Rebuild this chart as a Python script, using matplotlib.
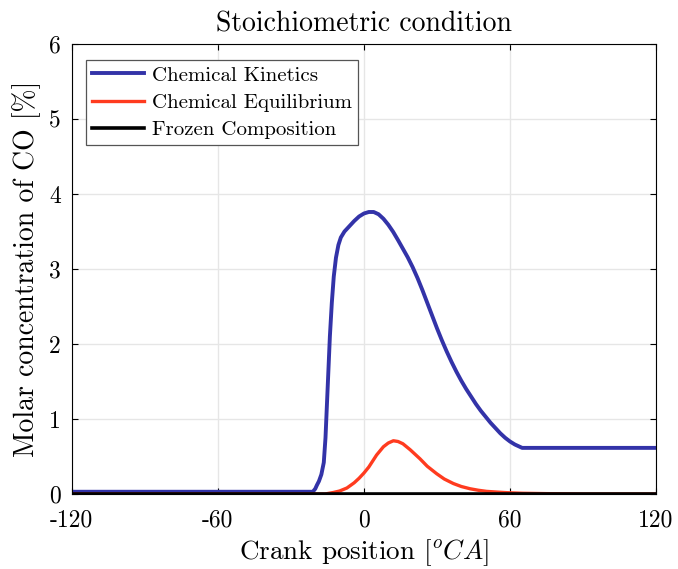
import matplotlib
matplotlib.use("Agg")
import matplotlib.pyplot as plt

plt.rcParams["font.family"] = ["cmr10", "DejaVu Serif"]
plt.rcParams["mathtext.fontset"] = "cm"
plt.rcParams["axes.unicode_minus"] = False

# Chemical kinetics (blue)
kin_x = [-120, -21, -20, -19.3, -18.5, -17.5, -16.5, -15.8, -15.2, -14.6, -14, -13.2,
         -12.4, -11.5, -10.5, -9.5, -8, -6, -4, -2, 0, 2, 4, 6, 8, 10, 12, 14, 16,
         18, 20, 22, 24, 26, 28, 30, 32, 34, 36, 38, 40, 42, 44, 46, 48, 50, 52, 54,
         56, 58, 60, 62, 64, 65, 120]
kin_y = [0.03, 0.03, 0.07, 0.12, 0.17, 0.26, 0.42, 0.75, 1.2, 1.65, 2.1, 2.55,
         2.9, 3.15, 3.32, 3.42, 3.50, 3.57, 3.64, 3.70, 3.74, 3.76, 3.76, 3.73, 3.67,
         3.59, 3.495, 3.385, 3.27, 3.155, 3.025, 2.88, 2.72, 2.55, 2.38, 2.21, 2.05,
         1.90, 1.76, 1.63, 1.51, 1.40, 1.30, 1.20, 1.11, 1.03, 0.95, 0.88, 0.81, 0.75,
         0.70, 0.66, 0.63, 0.615, 0.615]

# Chemical equilibrium (red)
eq_x = [-120, -16, -12.6, -10, -7, -4, -2, 0, 2, 5.2, 8, 10, 12.1, 14, 16, 19,
        23, 26, 29.9, 33, 36.7, 40, 43.6, 47, 50.4, 55, 58.6, 65, 75, 90, 120]
eq_y = [0.0, 0.0, 0.02, 0.04, 0.08, 0.15, 0.21, 0.28, 0.36, 0.52, 0.63, 0.68, 0.71,
        0.70, 0.67, 0.59, 0.47, 0.37, 0.27, 0.20, 0.14, 0.10, 0.07, 0.05, 0.035,
        0.025, 0.018, 0.01, 0.005, 0.0, 0.0]

# Frozen composition (black)
frz_x = [-120, 120]
frz_y = [0.0, 0.0]

xticks = [-120, -60, 0, 60, 120]
yticks = [0, 1, 2, 3, 4, 5, 6]

fig = plt.figure(figsize=(6.78, 5.69), dpi=100)
ax = fig.add_axes([0.106, 0.1318, 0.8616, 0.7909])

ax.plot(kin_x, kin_y, color="#3333a8", lw=2.8, label="Chemical Kinetics")
ax.plot(eq_x, eq_y, color="#ff3b1f", lw=2.4, label="Chemical Equilibrium")
ax.plot(frz_x, frz_y, color="black", lw=2.6, label="Frozen Composition")

ax.set_xlim(-120, 120)
ax.set_ylim(0, 6)
ax.set_xticks(xticks)
ax.set_xticklabels([str(t) for t in xticks])
ax.set_yticks(yticks)
ax.set_yticklabels([str(t) for t in yticks])
ax.tick_params(direction="in", labelsize=17, top=True, right=True, length=4)
ax.tick_params(axis="x", pad=11)
ax.tick_params(axis="y", pad=8)
ax.grid(True, color="#e6e6e6", lw=1)
ax.set_axisbelow(True)
for s in ax.spines.values():
    s.set_linewidth(0.8)

ax.set_title("Stoichiometric condition", fontsize=20, pad=9)
ax.set_xlabel(r"Crank position [$^{o}CA$]", fontsize=19.5, labelpad=4)
ax.set_ylabel("Molar concentration of CO [%]", fontsize=20, labelpad=6)

leg = ax.legend(loc="upper left", fontsize=15, fancybox=False, edgecolor="#555555",
                bbox_to_anchor=(0.024, 0.965), borderaxespad=0, handlelength=2.5,
                borderpad=0.3, labelspacing=0.42, handletextpad=0.35, framealpha=1)
leg.get_frame().set_linewidth(0.9)

fig.savefig("out.png", dpi=100)
